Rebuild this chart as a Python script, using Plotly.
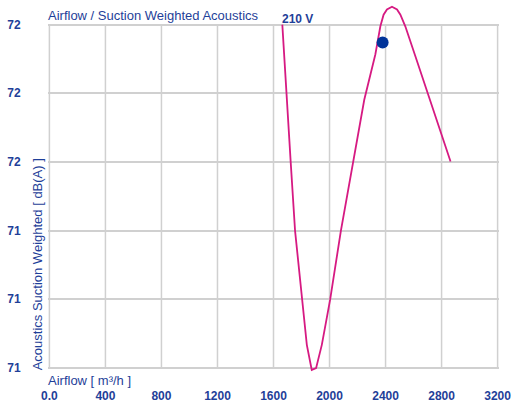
import plotly.graph_objects as go

_TXT = "#1f3f99"
_GRID = "#d0d0d0"
_LINE = "#d61a82"
_FONT = "Liberation Sans, Arial, sans-serif"

# curve 210 V
airflow = [1663, 1706, 1723, 1754, 1802, 1838, 1873, 1904, 1945, 2004, 2081,
           2167, 2248, 2327, 2363, 2386, 2410, 2446, 2482, 2506, 2541, 2613,
           2716, 2788, 2864]
acoustics = [72.0, 71.694, 71.598, 71.399, 71.198, 71.067, 70.994, 70.999,
             71.067, 71.198, 71.399, 71.598, 71.781, 71.913, 71.995, 72.029,
             72.044, 72.052, 72.044, 72.029, 71.995, 71.908, 71.781, 71.694,
             71.601]
curve_label = "210 V"

# operating point
op_airflow = [2379]
op_acoustics = [71.948]

x_ticks = [0, 400, 800, 1200, 1600, 2000, 2400, 2800, 3200]
x_ticktext = ["0.0", "400", "800", "1200", "1600", "2000", "2400", "2800", "3200"]
y_ticks = [71.0, 71.2, 71.4, 71.6, 71.8, 72.0]
y_ticktext = ["71", "71", "71", "72", "72", "72"]

fig = go.Figure()
fig.add_trace(go.Scatter(
    x=airflow, y=acoustics, mode="lines",
    line=dict(color=_LINE, width=1.8), hoverinfo="skip",
))
fig.add_trace(go.Scatter(
    x=op_airflow, y=op_acoustics, mode="markers",
    marker=dict(color="#003399", size=12), hoverinfo="skip",
))

# vertical grid only between the lowest and highest y tick
for xv in x_ticks:
    fig.add_shape(type="line", xref="x", yref="y", x0=xv, x1=xv,
                  y0=y_ticks[0], y1=y_ticks[-1], layer="below",
                  line=dict(color=_GRID, width=1.5))

fig.add_annotation(text="<b>" + curve_label + "</b>", x=airflow[0], y=acoustics[0],
                   xref="x", yref="y", xanchor="left", yanchor="bottom",
                   showarrow=False, font=dict(size=12, color=_TXT, family=_FONT),
                   xshift=-2, yshift=-3)
fig.add_annotation(text="Airflow / Suction Weighted Acoustics",
                   x=0, y=1, xref="paper", yref="paper", xanchor="left",
                   yanchor="bottom", yshift=-21, xshift=-2, showarrow=False,
                   font=dict(size=13, color=_TXT, family=_FONT))
fig.add_annotation(text="Airflow [ m³/h ]", x=0, y=0, xref="paper", yref="paper",
                   xanchor="left", yanchor="top", xshift=-2, yshift=2,
                   showarrow=False, font=dict(size=13, color=_TXT, family=_FONT))
fig.add_annotation(text="Acoustics Suction Weighted [ dB(A) ]", x=0, y=71.0,
                   xref="paper", yref="y", xanchor="right", yanchor="bottom",
                   textangle=-90, xshift=-1, yshift=-5, showarrow=False,
                   font=dict(size=13, color=_TXT, family=_FONT))

fig.update_layout(
    width=511, height=403,
    paper_bgcolor="white", plot_bgcolor="white",
    margin=dict(l=48, r=12, t=4, b=30),
    showlegend=False,
    font=dict(family=_FONT, color=_TXT, size=12),
    xaxis=dict(
        range=[-10, 3210], showgrid=False, zeroline=False, showline=False,
        automargin=False, ticklabeloverflow="allow",
        tickvals=x_ticks, ticktext=x_ticktext, ticks="outside", ticklen=12,
        tickcolor="rgba(0,0,0,0)",
        tickfont=dict(size=12, color=_TXT, family=_FONT, weight="bold"),
    ),
    yaxis=dict(
        range=[70.985, 72.06], showgrid=True, gridcolor=_GRID, gridwidth=1.5,
        zeroline=False, showline=False, automargin=False,
        tickvals=y_ticks, ticktext=y_ticktext, ticks="outside", ticklen=24,
        tickcolor="rgba(0,0,0,0)",
        tickfont=dict(size=12, color=_TXT, family=_FONT, weight="bold"),
    ),
)

fig.write_html("out.html", config={"displayModeBar": False},
               post_script="document.body.style.margin='0';")
